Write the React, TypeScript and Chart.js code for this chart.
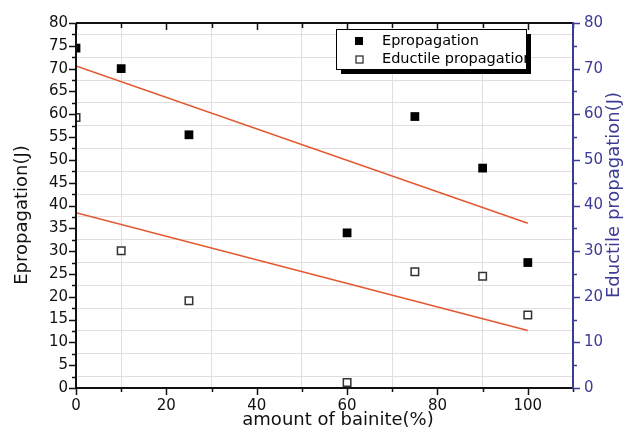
import React, { useEffect, useRef } from "react";
import { Chart, registerables } from "chart.js";

Chart.register(...registerables);

const seriesNames = ["Epropagation", "Eductile propagation"];
const bainite = [0, 10, 25, 60, 75, 90, 100];
const ePropagation = [74.5, 70, 55.5, 34, 59.5, 48.2, 27.5];
const eDuctile = [59.3, 30.1, 19.1, 1.2, 25.5, 24.5, 16];
const fitX = [0, 100];
const fitUpper = [70.6, 36.1];
const fitLower = [38.4, 12.6];
const xTitle = "amount of bainite(%)";
const yTitle = "Epropagation(J)";
const y1Title = "Eductile propagation(J)";

const FONT = "'DejaVu Sans', sans-serif";
const BLUE = "#3c3c96";
const GRID = "#e3dddd";
const RED = "#e4572e";

const overlay = {
  id: "overlay",
  afterDraw(chart: any) {
    const ctx = chart.ctx;
    const { left, right, top, bottom } = chart.chartArea;
    const xs = chart.scales.x;
    const ys = chart.scales.y;
    const y1 = chart.scales.y1;
    ctx.save();
    // axes lines
    ctx.lineWidth = 2;
    ctx.strokeStyle = "#111";
    ctx.beginPath();
    ctx.moveTo(left, top);
    ctx.lineTo(right, top);
    ctx.moveTo(left, bottom);
    ctx.lineTo(right, bottom);
    ctx.moveTo(left, top);
    ctx.lineTo(left, bottom);
    ctx.stroke();
    // x ticks
    ctx.lineWidth = 1.5;
    ctx.beginPath();
    for (let v = 0; v <= 110; v += 10) {
      const px = Math.round(xs.getPixelForValue(v)) + 0.5;
      const major = v % 20 === 0;
      ctx.moveTo(px, bottom);
      ctx.lineTo(px, bottom + (major ? 7 : 4));
      ctx.moveTo(px, top);
      ctx.lineTo(px, top + (major ? 7 : 5));
    }
    // left ticks
    for (let v = 0; v <= 80; v += 2.5) {
      const py = Math.round(ys.getPixelForValue(v)) + 0.5;
      const major = v % 5 === 0;
      ctx.moveTo(left, py);
      ctx.lineTo(left - (major ? 7 : 4), py);
    }
    ctx.stroke();
    // right axis
    ctx.strokeStyle = BLUE;
    ctx.lineWidth = 2;
    ctx.beginPath();
    ctx.moveTo(right, top - 1);
    ctx.lineTo(right, bottom + 1);
    ctx.stroke();
    ctx.lineWidth = 1.5;
    ctx.beginPath();
    for (let v = 0; v <= 80; v += 5) {
      const py = Math.round(y1.getPixelForValue(v)) + 0.5;
      const major = v % 10 === 0;
      ctx.moveTo(right, py);
      ctx.lineTo(right + (major ? 7 : 4), py);
    }
    ctx.stroke();

    // titles
    ctx.fillStyle = "#111";
    ctx.font = `18px ${FONT}`;
    ctx.textAlign = "center";
    ctx.textBaseline = "middle";
    ctx.fillText(xTitle, 338, 420);
    ctx.save();
    ctx.translate(22, 215);
    ctx.rotate(-Math.PI / 2);
    ctx.fillText(yTitle, 0, 0);
    ctx.restore();
    ctx.save();
    ctx.fillStyle = BLUE;
    ctx.translate(614, 195);
    ctx.rotate(-Math.PI / 2);
    ctx.fillText(y1Title, 0, 0);
    ctx.restore();

    // legend
    const bx = 336, by = 29, bw = 190, bh = 40;
    ctx.fillStyle = "#000";
    ctx.fillRect(bx + 5, by + 5, bw, bh);
    ctx.fillStyle = "#fff";
    ctx.fillRect(bx, by, bw, bh);
    ctx.strokeStyle = "#000";
    ctx.lineWidth = 1;
    ctx.strokeRect(bx + 0.5, by + 0.5, bw, bh);
    ctx.save();
    ctx.beginPath();
    ctx.rect(bx + 1, by + 1, bw - 1, bh - 1);
    ctx.clip();
    ctx.fillStyle = "#000";
    ctx.fillRect(355, 37, 8, 8);
    ctx.fillStyle = "#fff";
    ctx.strokeStyle = "#333";
    ctx.lineWidth = 1.3;
    ctx.fillRect(356, 56, 7, 7);
    ctx.strokeRect(356, 56, 7, 7);
    ctx.fillStyle = "#000";
    ctx.font = `14.5px ${FONT}`;
    ctx.textAlign = "left";
    ctx.textBaseline = "middle";
    ctx.fillText(seriesNames[0], 382, 41);
    ctx.fillText(seriesNames[1], 382, 59);
    ctx.restore();
    ctx.restore();
  },
};

export default function App() {
  const ref = useRef<HTMLCanvasElement | null>(null);
  useEffect(() => {
    document.body.style.margin = "0";
    if (!ref.current) return;
    const pts = (xs: number[], ys: number[]) => xs.map((x, i) => ({ x, y: ys[i] }));
    const chart = new Chart(ref.current, {
      type: "scatter",
      data: {
        datasets: [
          {
            label: seriesNames[0],
            data: pts(bainite, ePropagation),
            yAxisID: "y",
            pointStyle: "rect",
            pointRadius: 6.2,
            backgroundColor: "#000",
            borderColor: "#000",
            borderWidth: 0,
          },
          {
            label: seriesNames[1],
            data: pts(bainite, eDuctile),
            yAxisID: "y1",
            pointStyle: "rect",
            pointRadius: 5.3,
            backgroundColor: "#fff",
            borderColor: "#333",
            borderWidth: 1.5,
          },
          {
            label: "fit1",
            data: pts(fitX, fitUpper),
            yAxisID: "y",
            showLine: true,
            pointRadius: 0,
            borderColor: RED,
            borderWidth: 1.5,
          },
          {
            label: "fit2",
            data: pts(fitX, fitLower),
            yAxisID: "y1",
            showLine: true,
            pointRadius: 0,
            borderColor: RED,
            borderWidth: 1.5,
          },
        ],
      },
      options: {
        animation: false,
        responsive: false,
        layout: { padding: { top: 23, left: 0, right: 0, bottom: 0 } },
        plugins: { legend: { display: false }, tooltip: { enabled: false } },
        scales: {
          x: {
            type: "linear",
            min: 0,
            max: 110,
            border: { display: false },
            grid: {
              drawTicks: false,
              color: (c: any) =>
                c.tick && c.tick.value % 20 !== 0 && c.tick.value < 110 ? GRID : "transparent",
              lineWidth: 1,
            },
            ticks: {
              stepSize: 10,
              autoSkip: false,
              maxRotation: 0,
              padding: 9,
              color: "#111",
              font: { family: FONT, size: 15 },
              callback: (v: any) => (v % 20 === 0 && v <= 100 ? String(v) : ""),
            },
            afterFit: (s: any) => {
              s.height = 55;
            },
          },
          y: {
            type: "linear",
            position: "left",
            min: 0,
            max: 80,
            border: { display: false },
            grid: {
              drawTicks: false,
              color: (c: any) => (c.tick && c.tick.value % 5 !== 0 ? GRID : "transparent"),
              lineWidth: 1,
            },
            ticks: {
              stepSize: 2.5,
              autoSkip: false,
              padding: 8,
              color: "#111",
              font: { family: FONT, size: 15 },
              callback: (v: any) => (v % 5 === 0 ? String(v) : ""),
            },
            afterFit: (s: any) => {
              s.width = 76;
            },
          },
          y1: {
            type: "linear",
            position: "right",
            min: 0,
            max: 80,
            border: { display: false },
            grid: { drawOnChartArea: false, drawTicks: false },
            ticks: {
              stepSize: 5,
              autoSkip: false,
              padding: 11,
              color: BLUE,
              font: { family: FONT, size: 15 },
              callback: (v: any) => (v % 10 === 0 ? String(v) : ""),
            },
            afterFit: (s: any) => {
              s.width = 51;
            },
          },
        },
      } as any,
      plugins: [overlay],
    });
    return () => chart.destroy();
  }, []);
  return <canvas ref={ref} width={624} height={443} style={{ display: "block" }} />;
}
